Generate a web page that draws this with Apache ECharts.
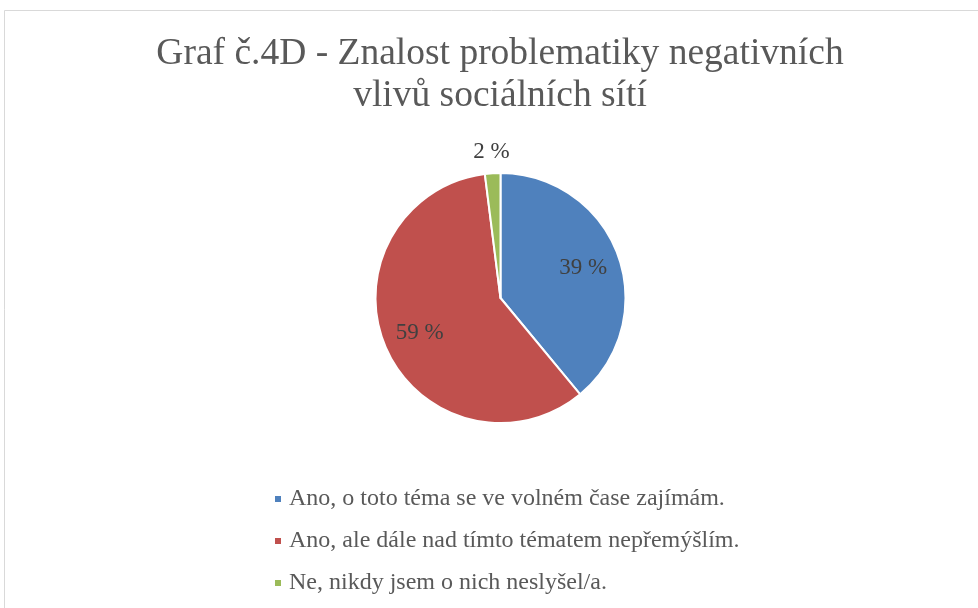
<!DOCTYPE html>
<html>
<head>
<meta charset="utf-8">
<title>Graf č.4D</title>
<script src="https://cdn.jsdelivr.net/npm/echarts@6/dist/echarts.min.js"></script>
<style>
  html, body { margin: 0; padding: 0; background: #fff; }
  #chart { width: 978px; height: 608px; }
</style>
</head>
<body>
<div id="chart"></div>
<script>
// data
var categories = [
  'Ano, o toto téma se ve volném čase zajímám.',
  'Ano, ale dále nad tímto tématem nepřemýšlím.',
  'Ne, nikdy jsem o nich neslyšel/a.'
];
var values = [39, 59, 2];
var colors = ['#4f81bd', '#c0504d', '#9bbb59'];

var serif = '"Liberation Serif", "Times New Roman", serif';

var chart = echarts.init(document.getElementById('chart'));

var pieData = categories.map(function (name, i) {
  return { name: name, value: values[i], itemStyle: { color: colors[i] } };
});

// labels for the two big slices sit further out than the default "inside" spot
var innerLabelData = categories.map(function (name, i) {
  return { name: name, value: values[i], label: { show: i < 2 } };
});
// the small slice has its label above the pie
var outerLabelData = categories.map(function (name, i) {
  return { name: name, value: values[i], label: { show: i === 2 } };
});

var labelStyle = {
  position: 'inside',
  formatter: '{d} %',
  fontFamily: serif,
  fontSize: 23,
  color: '#404040'
};

var option = {
  backgroundColor: '#fff',
  animation: false,
  title: {
    text: 'Graf č.4D - Znalost problematiky negativních\nvlivů sociálních sítí',
    left: 500,
    top: 33,
    padding: 0,
    textAlign: 'center',
    textStyle: {
      fontFamily: serif,
      fontSize: 37.5,
      lineHeight: 42,
      fontWeight: 'normal',
      color: '#595959'
    }
  },
  legend: {
    orient: 'vertical',
    left: 273,
    top: 487,
    padding: 0,
    itemWidth: 8,
    itemHeight: 8,
    itemGap: 18,
    icon: 'rect',
    data: categories,
    textStyle: {
      fontFamily: serif,
      fontSize: 24,
      lineHeight: 24,
      color: '#595959',
      padding: [0, 0, 0, 2]
    }
  },
  graphic: [{
    type: 'rect',
    shape: { x: 4.5, y: 10.5, width: 1000, height: 700 },
    style: { fill: 'none', stroke: '#d9d9d9', lineWidth: 1 },
    silent: true
  }],
  series: [
    {
      name: 'pie',
      type: 'pie',
      center: [500.5, 298],
      radius: [0, 125],
      startAngle: 90,
      clockwise: true,
      label: { show: false },
      labelLine: { show: false },
      itemStyle: { borderColor: '#fff', borderWidth: 2 },
      data: pieData
    },
    {
      name: 'labels',
      type: 'pie',
      silent: true,
      center: [500.5, 298],
      radius: [45, 125],
      startAngle: 90,
      itemStyle: { color: 'transparent' },
      label: labelStyle,
      labelLine: { show: false },
      data: innerLabelData
    },
    {
      name: 'labels2',
      type: 'pie',
      silent: true,
      center: [500.5, 298],
      radius: [140, 146],
      startAngle: 90,
      itemStyle: { color: 'transparent' },
      label: labelStyle,
      labelLine: { show: false },
      data: outerLabelData
    }
  ]
};

chart.setOption(option);
</script>
</body>
</html>
